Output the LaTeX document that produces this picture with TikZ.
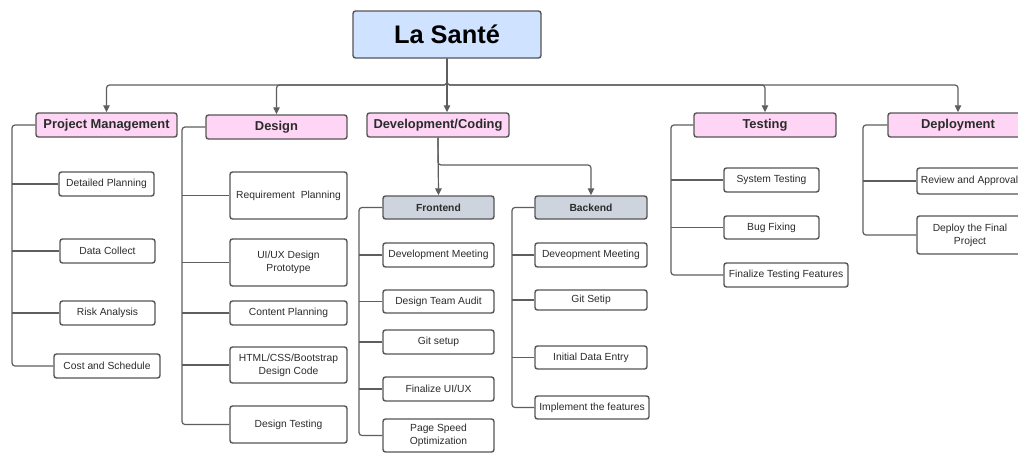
\documentclass[tikz,border=0pt]{standalone}
\usepackage{fontspec}
\setmainfont{Liberation Sans}
\usetikzlibrary{arrows.meta}

\definecolor{linegray}{HTML}{5E5E5E}
\definecolor{boxgray}{HTML}{555555}
\definecolor{rootblue}{HTML}{CFE2FF}
\definecolor{phasepink}{HTML}{FFD5F5}
\definecolor{subgray}{HTML}{CED4DD}
\definecolor{txt}{HTML}{2B2B2B}

\tikzset{
  base/.style={draw=boxgray, line width=1.4pt, rounded corners=2.5pt, inner sep=1pt,
               text=txt, align=center},
  task/.style={base, fill=white, font=\fontsize{10.3}{13}\selectfont},
  phase/.style={base, fill=phasepink, font=\bfseries\fontsize{12.9}{15}\selectfont},
  sub/.style={base, fill=subgray, font=\bfseries\fontsize{10.3}{13}\selectfont},
  rootbox/.style={base, fill=rootblue, text=black, font=\bfseries\fontsize{25.4}{30}\selectfont},
  conn/.style={draw=linegray, line width=1.2pt, rounded corners=3pt},
  arr/.style={conn, -{Triangle[length=7pt,width=6.5pt]}},
}

% box by its corners: name, style, x1, y1, x2, y2, text
\newcommand\wbsbox[7]{%
  \node[#2, minimum width={#5-#3}, minimum height={#6-#4}] (#1)
    at ({(#3+#5)/2},{(#4+#6)/2}) {#7};}

\begin{document}
\begin{tikzpicture}[x=1pt, y=-1pt]
\clip (0,0) rectangle (1018,453);
\fill[white] (0,0) rectangle (1018,453);

% top level
\wbsbox{root}{rootbox}{353}{11}{541}{58}{La Santé}

% phases
\wbsbox{pm}{phase}{36}{113}{177}{137}{Project Management}
\wbsbox{dsg}{phase}{206}{115}{347}{139}{Design}
\wbsbox{dev}{phase}{367}{113}{509}{137}{Development/Coding}
\wbsbox{tst}{phase}{694}{113}{836}{137}{Testing}
\wbsbox{dep}{phase}{888}{113}{1028}{137}{Deployment}

\coordinate (bus) at (0,85);
\foreach \p in {pm,dsg,tst,dep}
  \draw[arr] (root.south) |- (bus -| \p.north) -- (\p.north);
\draw[arr] (root.south) -- (root.south |- dev.north);

% project management
\wbsbox{pm1}{task}{59}{172}{154}{196}{Detailed Planning}
\wbsbox{pm2}{task}{60}{239}{155}{263}{Data Collect}
\wbsbox{pm3}{task}{60}{301}{155}{325}{Risk Analysis}
\wbsbox{pm4}{task}{54}{354}{160}{378}{Cost and Schedule}
\coordinate (pmtrunk) at (12,0);
\draw[conn] (pm.west) -| (pmtrunk |- pm4.west) -- (pm4.west);
\foreach \c in {pm1,pm2,pm3}
  \draw[conn] (pmtrunk |- \c.west) -- (\c.west);

% design
\wbsbox{d1}{task}{230}{172}{347}{219}{Requirement\ \ Planning}
\wbsbox{d2}{task}{230}{239}{347}{286}{UI/UX Design\\Prototype}
\wbsbox{d3}{task}{230}{301}{347}{325}{Content Planning}
\wbsbox{d4}{task}{230}{347}{347}{383}{HTML/CSS/Bootstrap\\Design Code}
\wbsbox{d5}{task}{230}{406}{347}{443}{Design Testing}
\coordinate (dtrunk) at (182,0);
\draw[conn] (dsg.west) -| (dtrunk |- d5.west) -- (d5.west);
\foreach \c in {d1,d2,d3,d4}
  \draw[conn] (dtrunk |- \c.west) -- (\c.west);

% development
\wbsbox{fe}{sub}{383}{196}{494}{219}{Frontend}
\wbsbox{be}{sub}{535}{196}{647}{219}{Backend}
\coordinate (devbus) at (0,165);
\draw[arr] (dev.south) -- (fe.north);
\draw[arr] (dev.south) |- (devbus -| be.north) -- (be.north);

\wbsbox{fe1}{task}{383}{243}{494}{267}{Development Meeting}
\wbsbox{fe2}{task}{383}{290}{494}{313}{Design Team Audit}
\wbsbox{fe3}{task}{383}{330}{494}{354}{Git setup}
\wbsbox{fe4}{task}{383}{377}{494}{401}{Finalize UI/UX}
\wbsbox{fe5}{task}{383}{419}{494}{452}{Page Speed\\Optimization}
\coordinate (fetrunk) at (359,0);
\draw[conn] (fe.west) -| (fetrunk |- fe5.west) -- (fe5.west);
\foreach \c in {fe1,fe2,fe3,fe4}
  \draw[conn] (fetrunk |- \c.west) -- (\c.west);

\wbsbox{be1}{task}{535}{243}{647}{267}{Deveopment Meeting}
\wbsbox{be2}{task}{535}{290}{647}{310}{Git Setip}
\wbsbox{be3}{task}{535}{346}{647}{369}{Initial Data Entry}
\wbsbox{be4}{task}{535}{396}{649}{419}{Implement the features}
\coordinate (betrunk) at (512,0);
\draw[conn] (be.west) -| (betrunk |- be4.west) -- (be4.west);
\foreach \c in {be1,be2,be3}
  \draw[conn] (betrunk |- \c.west) -- (\c.west);

% testing
\wbsbox{t1}{task}{724}{168}{819}{192}{System Testing}
\wbsbox{t2}{task}{724}{216}{819}{239}{Bug Fixing}
\wbsbox{t3}{task}{724}{263}{848}{287}{Finalize Testing Features}
\coordinate (ttrunk) at (671,0);
\draw[conn] (tst.west) -| (ttrunk |- t3.west) -- (t3.west);
\foreach \c in {t1,t2}
  \draw[conn] (ttrunk |- \c.west) -- (\c.west);

% deployment
\wbsbox{dp1}{task}{917}{168}{1022}{194}{Review and Approval}
\wbsbox{dp2}{task}{917}{216}{1023}{254}{Deploy the Final\\Project}
\coordinate (dptrunk) at (863,0);
\draw[conn] (dep.west) -| (dptrunk |- dp2.west) -- (dp2.west);
\draw[conn] (dptrunk |- dp1.west) -- (dp1.west);
\end{tikzpicture}
\end{document}
